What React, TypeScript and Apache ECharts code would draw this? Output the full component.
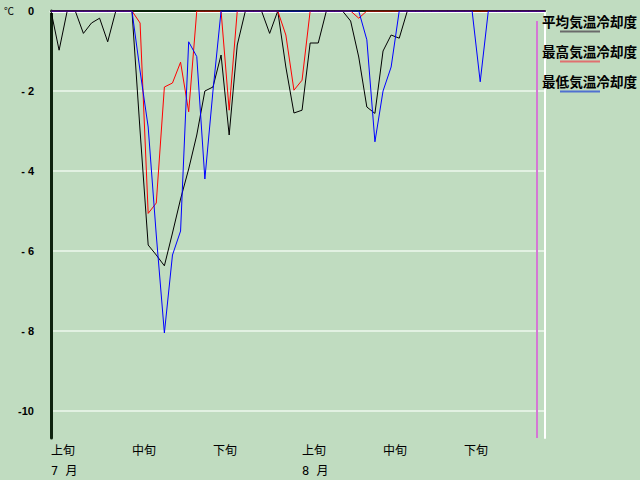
import React, { useEffect, useRef } from 'react';
import * as echarts from 'echarts';

const days = [
  '7/1', '7/2', '7/3', '7/4', '7/5', '7/6', '7/7', '7/8', '7/9', '7/10',
  '7/11', '7/12', '7/13', '7/14', '7/15', '7/16', '7/17', '7/18', '7/19', '7/20',
  '7/21', '7/22', '7/23', '7/24', '7/25', '7/26', '7/27', '7/28', '7/29', '7/30', '7/31',
  '8/1', '8/2', '8/3', '8/4', '8/5', '8/6', '8/7', '8/8', '8/9', '8/10',
  '8/11', '8/12', '8/13', '8/14', '8/15', '8/16', '8/17', '8/18', '8/19', '8/20',
  '8/21', '8/22', '8/23', '8/24', '8/25', '8/26', '8/27', '8/28', '8/29', '8/30', '8/31',
];

// 平均気温冷却度
const avgCooling = [
  0, -0.98, 0, 0, -0.56, -0.3, -0.18, -0.77, 0, 0,
  0, -3.0, -5.85, -6.1, -6.37, -5.55, -4.7, -3.95, -3.1, -2.0,
  -1.9, -1.1, -3.1, -0.85, 0, 0, 0, -0.56, 0, -1.4, -2.55,
  -2.48, -0.8, -0.8, 0, 0, 0, -0.25, -1.15, -2.4, -2.56,
  -1.0, -0.6, -0.68, 0, 0, 0, 0, 0, 0, 0,
  0, 0, 0, 0, 0, 0, 0, 0, 0, 0, 0,
];

// 最高気温冷却度
const maxCooling = [
  0, 0, 0, 0, 0, 0, 0, 0, 0, 0,
  0, -0.3, -5.06, -4.8, -1.9, -1.8, -1.28, -2.52, 0, 0,
  0, 0, -2.48, 0, 0, 0, 0, 0, 0, -0.6, -1.98,
  -1.73, 0, 0, 0, 0, 0, 0, -0.18, 0, 0,
  0, 0, 0, 0, 0, 0, 0, 0, 0, 0,
  0, 0, 0, 0, 0, 0, 0, 0, 0, 0, 0,
];

// 最低気温冷却度
const minCooling = [
  0, 0, 0, 0, 0, 0, 0, 0, 0, 0,
  0, -1.5, -2.9, -5.6, -8.05, -6.1, -5.5, -0.77, -1.14, -4.2,
  -2.0, 0, 0, 0, 0, 0, 0, 0, 0, 0, 0,
  0, 0, 0, 0, 0, 0, 0, 0, -0.72, -3.27,
  -2.0, -1.4, 0, 0, 0, 0, 0, 0, 0, 0,
  0, 0, -1.77, 0, 0, 0, 0, 0, 0, 0, 0,
];

const seriesNames = ['平均気温冷却度', '最高気温冷却度', '最低気温冷却度'];
const seriesValues = [avgCooling, maxCooling, minCooling];
const seriesColors = ['#000000', '#ff0000', '#0000ff'];
const legendLineColors = ['#6a6a6a', '#e07070', '#5070d0'];

const yTicks = [0, -2, -4, -6, -8, -10];
const yMin = -10.675;
const yMax = 0;

const periodStarts = ['7/1', '7/11', '7/21', '8/1', '8/11', '8/21'];
const periodLabels = ['上旬', '中旬', '下旬', '上旬', '中旬', '下旬'];
const monthLabels = ['7 月', '', '', '8 月', '', ''];

const markerDay = '8/30';
const markerTop = -0.25;
const unitLabel = '℃';

const BG = '#c0dcc0';

export default function App() {
  const ref = useRef<HTMLDivElement>(null);

  useEffect(() => {
    if (!ref.current) return;
    const chart = echarts.init(ref.current, null, { renderer: 'svg' });

    const series: any[] = seriesNames.map((name, i) => ({
      name,
      type: 'line',
      data: seriesValues[i],
      showSymbol: false,
      symbol: 'none',
      z: 3 + i,
      lineStyle: { color: seriesColors[i], width: 1 },
      itemStyle: { color: seriesColors[i] },
    }));

    series.push({
      name: 'marker',
      type: 'line',
      data: [],
      z: 2,
      markLine: {
        silent: true,
        symbol: 'none',
        label: { show: false },
        lineStyle: { color: '#d478d4', width: 2, type: 'solid' },
        data: [[{ coord: [markerDay, markerTop] }, { coord: [markerDay, yMin] }]],
      },
    });

    const graphics: any[] = [
      {
        type: 'text',
        left: 4,
        top: 5,
        z: 100,
        style: { text: unitLabel, fontSize: 10, fill: '#000', fontFamily: 'Noto Sans CJK JP' },
      },
    ];
    seriesNames.forEach((name, i) => {
      graphics.push({
        type: 'text',
        x: 542,
        y: 20.5 + i * 30,
        z: 100,
        style: {
          text: name,
          fontSize: 13.6,
          fontWeight: 'bold',
          fill: '#000',
          fontFamily: 'Noto Sans CJK JP',
          verticalAlign: 'middle',
        },
      });
      graphics.push({
        type: 'line',
        z: 100,
        shape: { x1: 560, y1: 31.5 + i * 30, x2: 600, y2: 31.5 + i * 30 },
        style: { stroke: legendLineColors[i], lineWidth: 2 },
      });
    });

    const option: any = {
      animation: false,
      backgroundColor: BG,
      grid: {
        left: 51,
        top: 11,
        width: 494,
        height: 427,
        containLabel: false,
        outerBoundsMode: 'none',
      },
      xAxis: [
        {
          type: 'category',
          data: days,
          boundaryGap: false,
          position: 'bottom',
          axisLine: { show: true, lineStyle: { color: '#ffffff', width: 3 } },
          axisTick: { show: false },
          splitLine: { show: false },
          axisLabel: {
            interval: (index: number) => periodStarts.includes(days[index]),
            formatter: (value: string) => {
              const k = periodStarts.indexOf(value);
              if (k < 0) return '';
              return monthLabels[k] ? periodLabels[k] + '\n' + monthLabels[k] : periodLabels[k];
            },
            align: 'left',
            verticalAlign: 'top',
            margin: 3,
            lineHeight: 20,
            fontSize: 12,
            color: '#000',
            fontFamily: 'DejaVu Sans Mono, Noto Sans CJK JP',
            hideOverlap: false,
          },
        },
        {
          type: 'category',
          data: days,
          boundaryGap: false,
          position: 'top',
          axisLine: { show: true, lineStyle: { color: '#0a240a', width: 2 } },
          axisTick: { show: false },
          axisLabel: { show: false },
          splitLine: { show: false },
        },
      ],
      yAxis: [
        {
          type: 'value',
          min: yMin,
          max: yMax,
          position: 'left',
          axisLine: { show: true, lineStyle: { color: '#0e220e', width: 3 } },
          axisTick: { show: false, customValues: yTicks },
          splitLine: { show: true, lineStyle: { color: '#eef8ee', width: 1.5 } },
          axisLabel: {
            customValues: yTicks,
            formatter: (v: number) => (v === 0 ? '0' : v > -10 ? '- ' + Math.abs(v) : String(v)),
            margin: 17,
            fontSize: 11,
            fontWeight: 'bold',
            color: '#000',
            fontFamily: 'Liberation Sans',
          },
        },
        {
          type: 'value',
          min: yMin,
          max: yMax,
          position: 'right',
          axisLine: { show: true, lineStyle: { color: '#ffffff', width: 2 } },
          axisTick: { show: false },
          axisLabel: { show: false },
          splitLine: { show: false },
        },
      ],
      series,
      graphic: graphics,
    };

    chart.setOption(option);
    return () => {
      chart.dispose();
    };
  }, []);

  return (
    <div
      ref={ref}
      style={{ position: 'fixed', left: 0, top: 0, width: 640, height: 480, background: BG }}
    />
  );
}
